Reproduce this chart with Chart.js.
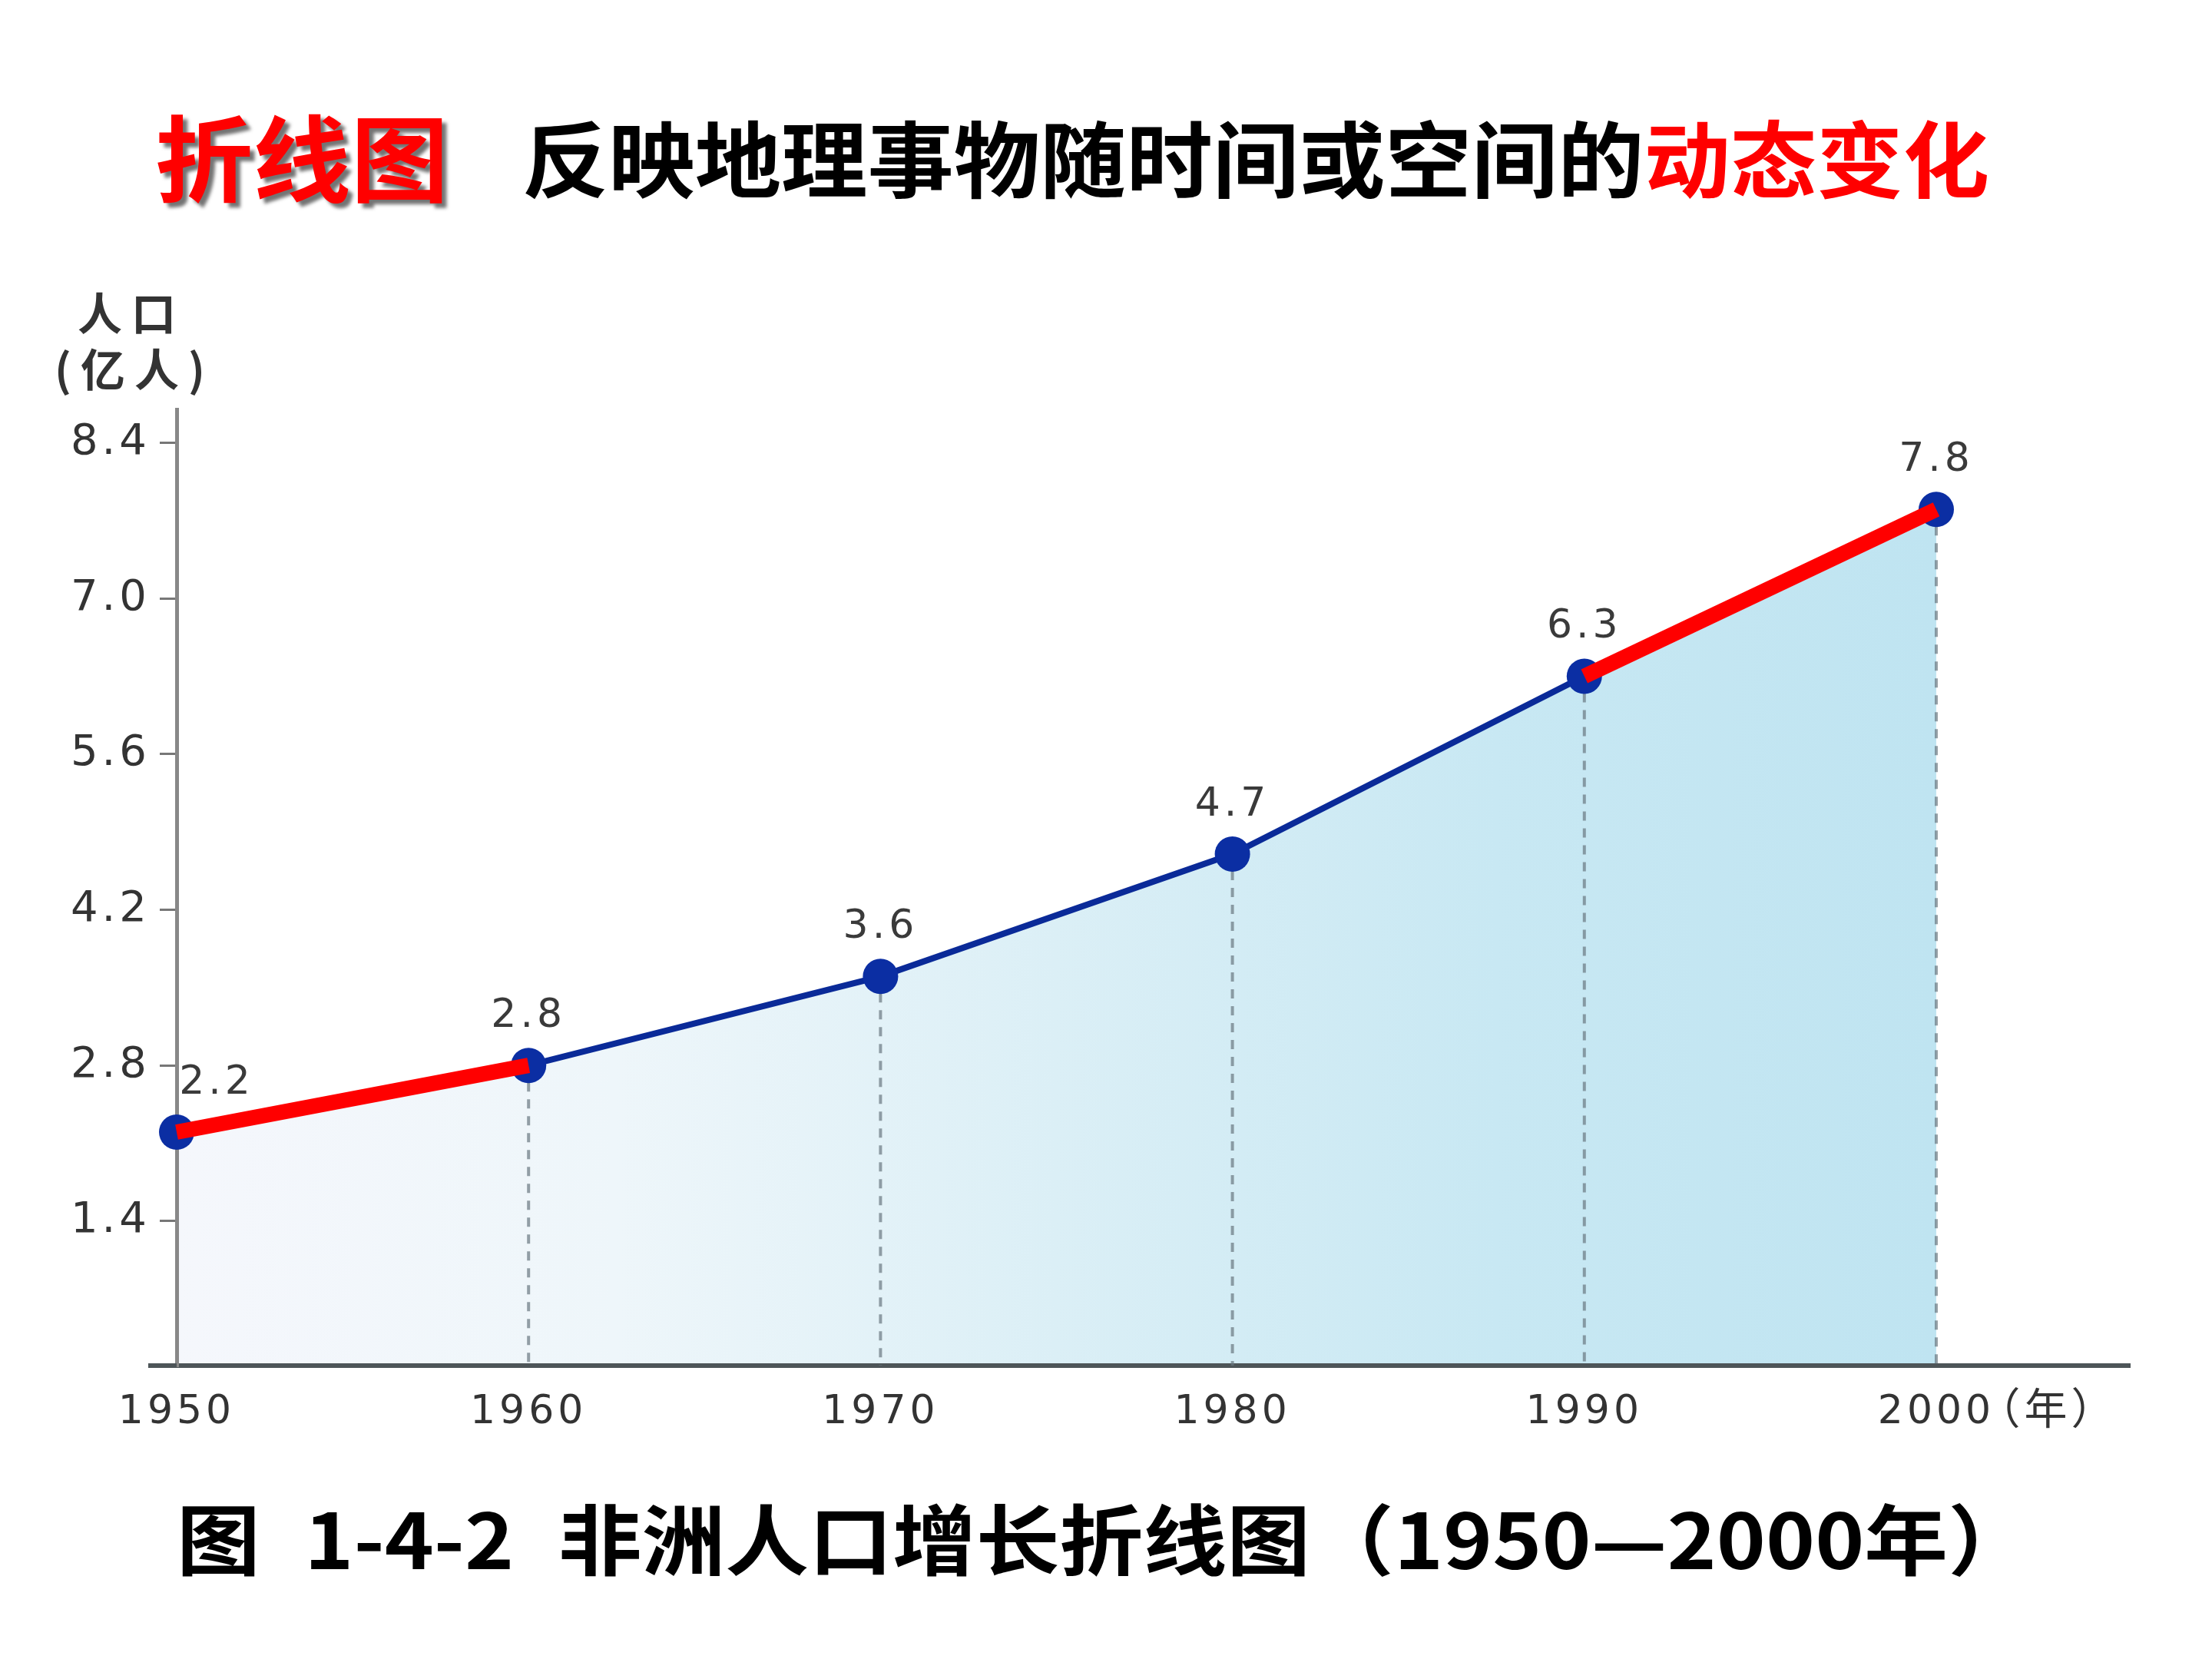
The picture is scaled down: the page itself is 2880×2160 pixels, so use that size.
<!DOCTYPE html>
<html>
<head>
<meta charset="utf-8">
<script src="https://cdn.jsdelivr.net/npm/chart.js@4/dist/chart.umd.min.js"></script>
<style>
html,body{margin:0;padding:0;background:#fff;width:2880px;height:2160px;overflow:hidden;}
#wrap{position:relative;width:2880px;height:2160px;}
#c{position:absolute;left:0;top:0;}
.t{position:absolute;white-space:nowrap;font-family:"Noto Sans CJK SC","Noto Sans",sans-serif;font-weight:700;transform-origin:left center;line-height:1;}
</style>
</head>
<body>
<div id="wrap">
<canvas id="c" width="2880" height="2160"></canvas>
<div id="title1" class="t" style="left:202px;top:139px;font-size:122px;color:#f00;text-shadow:6px 6px 4px rgba(70,70,70,.75);">折线图</div>
<div id="title2" class="t" style="left:680px;top:148px;font-size:108px;color:#000;">反映地理事物随时间或空间的<span style="color:#f00">动态变化</span></div>
<div id="caption" class="t" style="left:230px;top:1950px;font-size:100px;color:#000;word-spacing:30px;">图 1-4-2 非洲人口增长折线图（1950—2000年）</div>
</div>
<script>
// ---- data ----
const years = [1950, 1960, 1970, 1980, 1990, 2000];
const population = [2.2, 2.8, 3.6, 4.7, 6.3, 7.8];
const yTicks = [1.4, 2.8, 4.2, 5.6, 7.0, 8.4];
const yTickLabels = ['1.4', '2.8', '4.2', '5.6', '7.0', '8.4'];
const xTickLabels = ['1950', '1960', '1970', '1980', '1990', '2000'];
const highlightSegments = [[1950, 1960], [1990, 2000]];
const yAxisTitle = ['人口', '(亿人)'];
const xAxisUnit = '（年）';

const mainPoints = years.map((yr, i) => ({x: yr, y: population[i]}));
const highlightData = highlightSegments.map(([a, b]) =>
  years.map((yr, i) => ({x: yr, y: population[i]})).filter(p => p.x >= a && p.x <= b));

const decor = {
  id: 'decor',
  beforeDraw(chart) {
    chart.ctx.letterSpacing = '5px';
  },
  beforeDatasetsDraw(chart) {
    const {ctx, scales: {x, y}} = chart;
    ctx.save();
    ctx.strokeStyle = 'rgba(105,120,128,0.7)';
    ctx.lineWidth = 4;
    ctx.setLineDash([12, 10]);
    years.forEach((yr, i) => {
      if (i === 0) return;
      const px = x.getPixelForValue(yr);
      ctx.beginPath();
      ctx.moveTo(px, y.getPixelForValue(population[i]));
      ctx.lineTo(px, y.bottom);
      ctx.stroke();
    });
    ctx.restore();
  },
  afterDraw(chart) {
    const {ctx, chartArea, scales: {x, y}} = chart;
    ctx.save();
    // x-axis line continues a little left of the y axis
    ctx.strokeStyle = '#4d5558';
    ctx.lineWidth = 6;
    ctx.beginPath();
    ctx.moveTo(chartArea.left - 37, chartArea.bottom);
    ctx.lineTo(chartArea.left, chartArea.bottom);
    ctx.stroke();
    // y axis title
    ctx.fillStyle = '#333';
    ctx.textAlign = 'center';
    ctx.textBaseline = 'middle';
    ctx.letterSpacing = '12px';
    ctx.font = '700 58px "Noto Sans CJK SC"';
    ctx.fillText(yAxisTitle[0], 171, chartArea.top - 125);
    ctx.fillText(yAxisTitle[1], 175, chartArea.top - 52);
    // x axis unit
    ctx.letterSpacing = '5px';
    ctx.font = '56px "Noto Sans CJK SC"';
    ctx.fillText(xAxisUnit, x.getPixelForValue(years[years.length - 1]) + 145, chartArea.bottom + 55);
    // data labels
    const meta = chart.getDatasetMeta(0);
    ctx.font = '52px "DejaVu Sans"';
    ctx.fillStyle = '#3a3a3a';
    meta.data.forEach((pt, i) => {
      const dx = i === 0 ? 52 : 0;
      ctx.fillText(population[i].toFixed(1), pt.x + dx, pt.y - 64);
    });
    ctx.restore();
  }
};

new Chart(document.getElementById('c'), {
  type: 'line',
  data: {
    datasets: [
      {
        data: mainPoints,
        order: 2,
        borderColor: '#0a2a98',
        borderWidth: 8,
        pointRadius: 23,
        pointHoverRadius: 23,
        pointBackgroundColor: '#0b2ea3',
        pointBorderColor: '#0b2ea3',
        pointBorderWidth: 0,
        tension: 0,
        clip: false,
        fill: 'start',
        backgroundColor: (c) => {
          const chart = c.chart;
          if (!chart.chartArea) return '#cfeaf4';
          const xs = chart.scales.x;
          const g = chart.ctx.createLinearGradient(xs.getPixelForValue(years[0]), 0, xs.getPixelForValue(years[years.length - 1]), 0);
          g.addColorStop(0, '#f5f7fc');
          g.addColorStop(0.25, '#eef6fa');
          g.addColorStop(0.5, '#dbeff6');
          g.addColorStop(0.75, '#c8e8f3');
          g.addColorStop(1, '#bfe4f1');
          return g;
        }
      },
      ...highlightData.map(d => ({
        data: d,
        order: 1,
        borderColor: '#ff0000',
        borderWidth: 20,
        borderCapStyle: 'butt',
        pointRadius: 0,
        pointHoverRadius: 0,
        fill: false,
        clip: false,
        tension: 0
      }))
    ]
  },
  options: {
    responsive: false,
    animation: false,
    devicePixelRatio: 1,
    layout: {padding: {top: 533, right: 107, bottom: 262, left: 0}},
    plugins: {
      legend: {display: false},
      tooltip: {enabled: false},
      filler: {drawTime: 'beforeDraw'}
    },
    scales: {
      x: {
        type: 'linear',
        min: 1950,
        max: 2005.5,
        afterBuildTicks: (s) => { s.ticks = years.map(v => ({value: v})); },
        afterFit: (s) => { s.height = 120; },
        ticks: {
          callback: (v) => { const i = years.indexOf(v); return i >= 0 ? xTickLabels[i] : ''; },
          font: {family: 'DejaVu Sans', size: 52},
          color: '#333',
          padding: 30,
          maxRotation: 0,
          autoSkip: false
        },
        grid: {display: false, drawTicks: false},
        border: {display: true, color: '#4d5558', width: 6}
      },
      y: {
        type: 'linear',
        min: 0.1,
        max: 8.7,
        afterBuildTicks: (s) => { s.ticks = yTicks.map(v => ({value: v})); },
        afterFit: (s) => { s.width = 230; },
        ticks: {
          callback: (v) => { const i = yTicks.findIndex(t => Math.abs(t - v) < 1e-9); return i >= 0 ? yTickLabels[i] : ''; },
          font: {family: 'DejaVu Sans', size: 56},
          color: '#333',
          padding: 12,
          autoSkip: false
        },
        grid: {drawOnChartArea: false, drawTicks: true, tickLength: 22, color: '#777', lineWidth: 3},
        border: {display: true, color: '#888', width: 5}
      }
    }
  },
  plugins: [decor]
});

function fit(id, w) {
  const el = document.getElementById(id);
  el.style.transform = 'none';
  const r = el.getBoundingClientRect().width;
  if (r > 0) el.style.transform = 'scaleX(' + (w / r) + ')';
}
function fitAll() {
  fit('title1', 382);
  fit('title2', 1910);
  fit('caption', 2415);
}
fitAll();
if (document.fonts && document.fonts.ready) document.fonts.ready.then(fitAll);
</script>
</body>
</html>
